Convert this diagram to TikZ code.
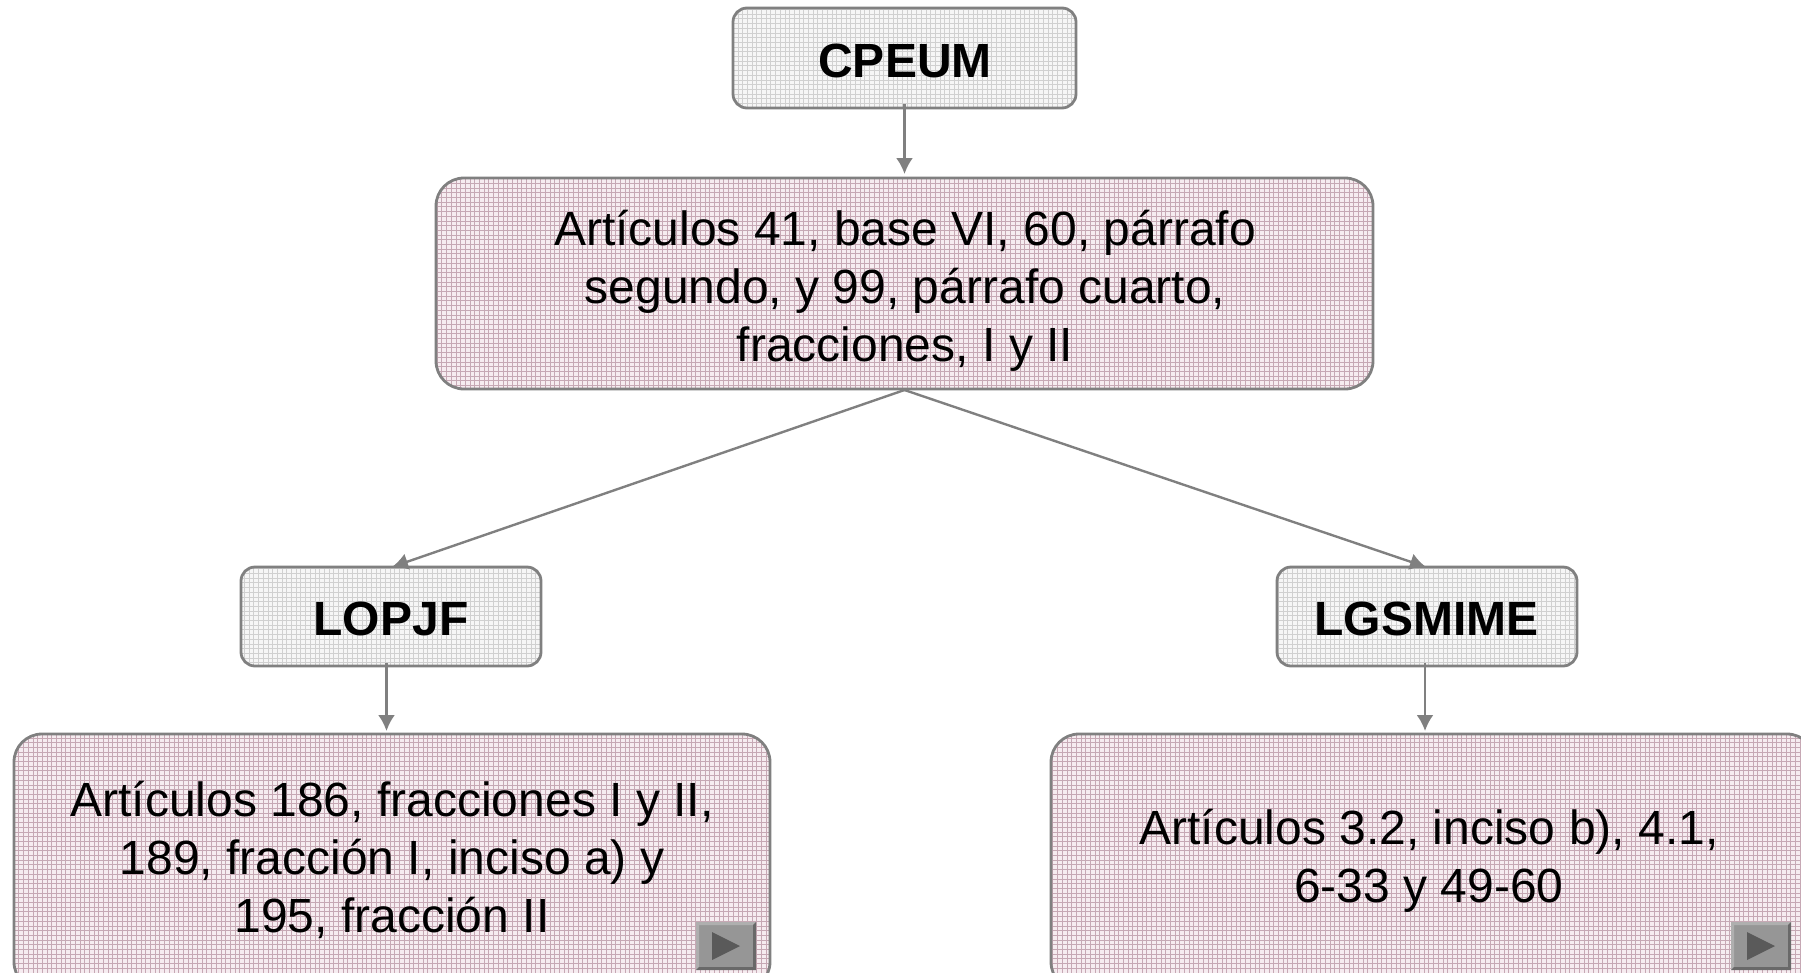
\documentclass[tikz,border=0pt]{standalone}
\usepackage{fontspec}
\setmainfont{Liberation Sans}
\usetikzlibrary{arrows.meta}
\definecolor{edgec}{RGB}{128,128,128}
\definecolor{gridg}{RGB}{208,208,208}
\definecolor{gridp}{RGB}{198,168,180}
\definecolor{fillg}{RGB}{246,246,246}
\definecolor{fillp}{RGB}{246,236,240}
\definecolor{btn}{RGB}{150,150,150}
\definecolor{btnl}{RGB}{175,175,175}
\definecolor{btnd}{RGB}{105,105,105}
\definecolor{btnt}{RGB}{90,90,90}
\newcommand{\gridlines}[1]{%
  \foreach \k in {0,4.7,...,1900}{%
    \draw[#1,line width=.8pt] (\k,0) -- (\k,1000);
    \draw[#1,line width=.8pt] (0,\k) -- (1900,\k);
  }}
\tikzset{x=1pt,y=-1pt,
  conn/.style={draw=edgec,line width=2.4pt,-{Latex[length=16pt,width=17pt]}},
  lbl/.style={align=center,text=black,inner sep=0pt,font=\fontsize{48}{58}\selectfont},
  hd/.style={align=center,text=black,inner sep=0pt,font=\fontsize{48}{58}\selectfont\bfseries},
  grayframe/.style={draw=edgec,line width=2.8pt,rounded corners=14pt},
  pinkframe/.style={draw=edgec,line width=2.8pt,rounded corners=28pt},
}
\begin{document}
\begin{tikzpicture}
\useasboundingbox (0,0) rectangle (1801,972);
\clip (0,0) rectangle (1801,972);
\foreach \a/\b/\c/\d in {733/8/1076/108,241/567/541/666,1277/567/1577/666}{
  \begin{scope}
    \path[fill=fillg,rounded corners=14pt] (\a,\b) rectangle (\c,\d);
    \clip[rounded corners=14pt] (\a,\b) rectangle (\c,\d);
    \gridlines{gridg}
  \end{scope}
  \path[grayframe] (\a,\b) rectangle (\c,\d);
}
\foreach \a/\b/\c/\d in {436/178/1373/389,14/734/770/990,1051/734/1815/990}{
  \begin{scope}
    \path[fill=fillp,rounded corners=28pt] (\a,\b) rectangle (\c,\d);
    \clip[rounded corners=28pt] (\a,\b) rectangle (\c,\d);
    \gridlines{gridp}
  \end{scope}
  \path[pinkframe] (\a,\b) rectangle (\c,\d);
}
\node[hd] (cpeum) at (905,60.5) {CPEUM};
\node[lbl] (art) at (905,290.5) {Artículos 41, base VI, 60, párrafo\\segundo, y 99, párrafo cuarto,\\fracciones, I y II};
\node[hd] (lopjf) at (391,618.5) {LOPJF};
\node[hd] (lgs) at (1426.5,618.5) {LGSMIME};
\node[lbl] (a1) at (392,859.5) {Artículos 186, fracciones I y II,\\189, fracción I, inciso a) y\\195, fracción II};
\node[lbl] (a2) at (1429,861) {Artículos 3.2, inciso b), 4.1,\\6-33 y 49-60};
\coordinate (c1) at (904.5,104);
\coordinate (c2) at (904.5,174);
\coordinate (d0) at (904.5,390);
\coordinate (d1) at (392,567);
\coordinate (d2) at (1426,567);
\coordinate (e1) at (386.5,663);
\coordinate (e2) at (386.5,731);
\coordinate (f1) at (1425,663);
\coordinate (f2) at (1425,731);
\draw[conn] (c1) -- (c2);
\draw[conn] (d0) -- (d1);
\draw[conn] (d0) -- (d2);
\draw[conn] (e1) -- (e2);
\draw[conn] (f1) -- (f2);
\foreach \x in {696,1731}{
  \fill[btn] (\x,922) rectangle (\x+60,970);
  \fill[btnl] (\x,922) -- (\x+60,922) -- (\x+57,925) -- (\x+3,925) -- (\x+3,967) -- (\x,970) -- cycle;
  \fill[btnd] (\x+60,970) -- (\x,970) -- (\x+3,967) -- (\x+57,967) -- (\x+57,925) -- (\x+60,922) -- cycle;
  \fill[btnt] (\x+16,932) -- (\x+44,946) -- (\x+16,960) -- cycle;
}
\end{tikzpicture}
\end{document}
